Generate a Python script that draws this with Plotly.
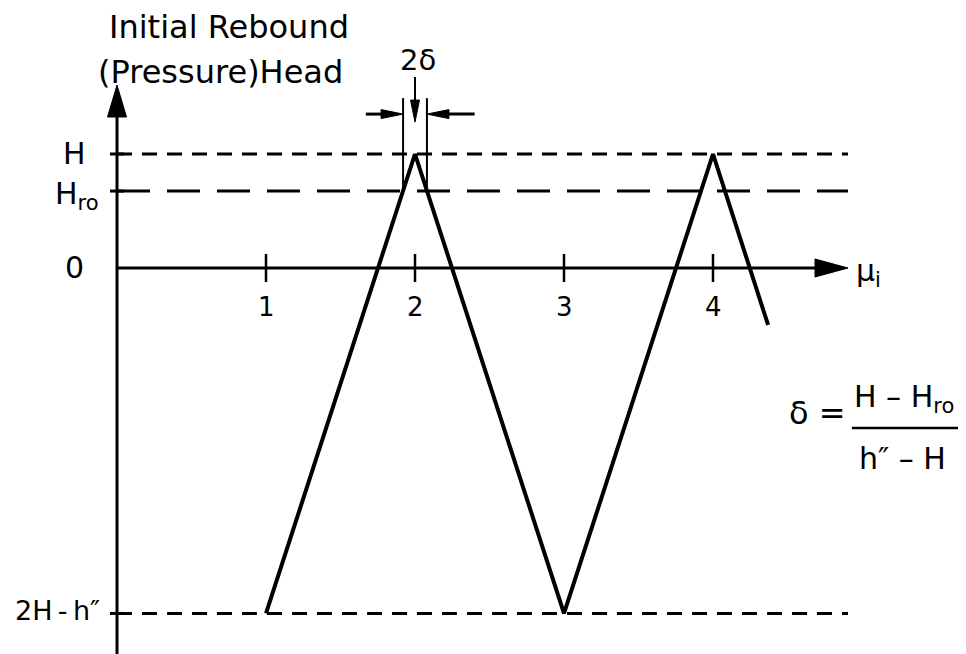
import plotly.graph_objects as go

# mu_i axis
mu_ticks = [1, 2, 3, 4]
mu_labels = ["1", "2", "3", "4"]

# head levels, in units of H
H = 1.0
H_ro = 0.675
H_low = -3.03          # 2H - h''
head_levels = [H, H_ro, 0.0, H_low]
head_labels = ["H", "H<sub>ro</sub>", "0", "2H\u2009-\u2009h\u2033"]

# initial rebound head against mu_i
wave_mu = [1, 2, 3, 4, 4.37]
wave_head = [H_low, H, H_low, H, -0.5]

delta = 0.08

# layout scale: pixels per unit and origin position
# (page body has an 8px margin, so the figure is 8px smaller)
W, HGT = 958, 646
X0, PX_X = 109, 149
Y0, PX_Y = 260, 114
x_end = (840 - X0) / PX_X
y_top = (Y0 - 77) / PX_Y

FONT = "DejaVu Sans"


def head(tx, ty, direction, length, width):
    lx, ly = length / PX_X, length / PX_Y
    wx, wy = width / 2 / PX_X, width / 2 / PX_Y
    if direction == "right":
        xs, ys = [tx, tx - lx, tx - lx, tx], [ty, ty + wy, ty - wy, ty]
    elif direction == "left":
        xs, ys = [tx, tx + lx, tx + lx, tx], [ty, ty + wy, ty - wy, ty]
    elif direction == "up":
        xs, ys = [tx, tx - wx, tx + wx, tx], [ty, ty - ly, ty - ly, ty]
    else:
        xs, ys = [tx, tx - wx, tx + wx, tx], [ty, ty + ly, ty + ly, ty]
    return go.Scatter(x=xs, y=ys, mode="lines", fill="toself", fillcolor="black",
                      line=dict(color="black", width=1), hoverinfo="skip")


def seg(xs, ys, width=3, dash="solid"):
    return go.Scatter(x=xs, y=ys, mode="lines", hoverinfo="skip",
                      line=dict(color="black", width=width, dash=dash))


fig = go.Figure()

# reference levels
fig.add_trace(seg([0, x_end], [H, H], 3, "15px,10px"))
fig.add_trace(seg([0, x_end], [H_ro, H_ro], 3, "33px,17px"))
fig.add_trace(seg([0, x_end], [H_low, H_low], 3, "15px,10px"))

# axes
y_bot = -(HGT - Y0) / PX_Y
fig.add_trace(seg([0, 0], [y_bot, y_top - 20 / PX_Y], 3))
fig.add_trace(seg([0, x_end - 20 / PX_X], [0, 0], 3))
fig.add_trace(head(0, y_top, "up", 32, 19))
fig.add_trace(head(x_end, 0, "right", 33, 18))

# ticks
fig.add_trace(go.Scatter(x=mu_ticks, y=[0] * 4, mode="markers", hoverinfo="skip",
                         marker=dict(symbol="line-ns", size=20,
                                     line=dict(color="black", width=2.5))))
fig.add_trace(go.Scatter(x=[0] * 3, y=[H, H_ro, H_low], mode="markers", hoverinfo="skip",
                         marker=dict(symbol="line-ew", size=10,
                                     line=dict(color="black", width=3))))

# rebound head
fig.add_trace(go.Scatter(x=wave_mu, y=wave_head, mode="lines", hoverinfo="skip",
                         line=dict(color="black", width=4)))

# 2 delta construction
y_a = 1.49
y_h = 1.35
fig.add_trace(seg([2 - delta, 2 - delta], [H_ro, y_a], 2))
fig.add_trace(seg([2 + delta, 2 + delta], [H_ro, y_a], 2))
fig.add_trace(seg([1.67, 2 - delta - 0.1], [y_h, y_h], 3))
fig.add_trace(seg([2.40, 2 + delta + 0.1], [y_h, y_h], 3))
fig.add_trace(head(2 - delta, y_h, "right", 22, 9))
fig.add_trace(head(2 + delta, y_h, "left", 22, 9))
fig.add_trace(seg([2, 2], [1.675, 1.28 + 20 / PX_Y], 2))
fig.add_trace(head(2, 1.28, "down", 22, 9))

# fraction bar of the delta formula
fx, fy = 5.302, -1.404
fig.add_trace(seg([fx - 0.37, fx + 0.37], [fy, fy], 2.5))

ann = []


def txt(x, y, s, size, xanchor="center", xshift=0, yshift=0):
    ann.append(dict(x=x, y=y, text=s, showarrow=False, xanchor=xanchor, yanchor="middle",
                    xshift=xshift, yshift=yshift,
                    font=dict(family=FONT, size=size, color="black")))


for m, lab in zip(mu_ticks, mu_labels):
    txt(m, 0, lab, 26, yshift=-39)

shifts = [(-29, 1), (-16, -4), (-31, 1), (-15, 3)]
sizes = [30, 30, 30, 27]
for lvl, lab, (xs, ys), sz in zip(head_levels, head_labels, shifts, sizes):
    txt(0, lvl, lab, sz, "right", xs, ys)

txt(0, y_top, "Initial Rebound", 32, "left", -10, 58)
txt(0, y_top, "(Pressure)Head", 32, "left", -21, 13)
txt(2, H, "2\u03b4", 29, xshift=3, yshift=94)
txt(x_end, 0, "\u03bc<sub>i</sub>", 30, "left", 6, -4)

txt(fx, fy, "\u03b4 =", 32, xshift=-90, yshift=15)
txt(fx, fy, "H \u2013 H<sub>ro</sub>", 30, "left", -55, 30)
txt(fx, fy, "h\u2033 \u2013 H", 30, "left", -50, -30)

fig.update_layout(
    width=W, height=HGT,
    margin=dict(l=0, r=0, t=0, b=0),
    paper_bgcolor="white", plot_bgcolor="white",
    showlegend=False,
    xaxis=dict(range=[-X0 / PX_X, (W - X0) / PX_X], visible=False, fixedrange=True),
    yaxis=dict(range=[y_bot, Y0 / PX_Y], visible=False, fixedrange=True),
    annotations=ann,
)

fig.write_html("out.html")
